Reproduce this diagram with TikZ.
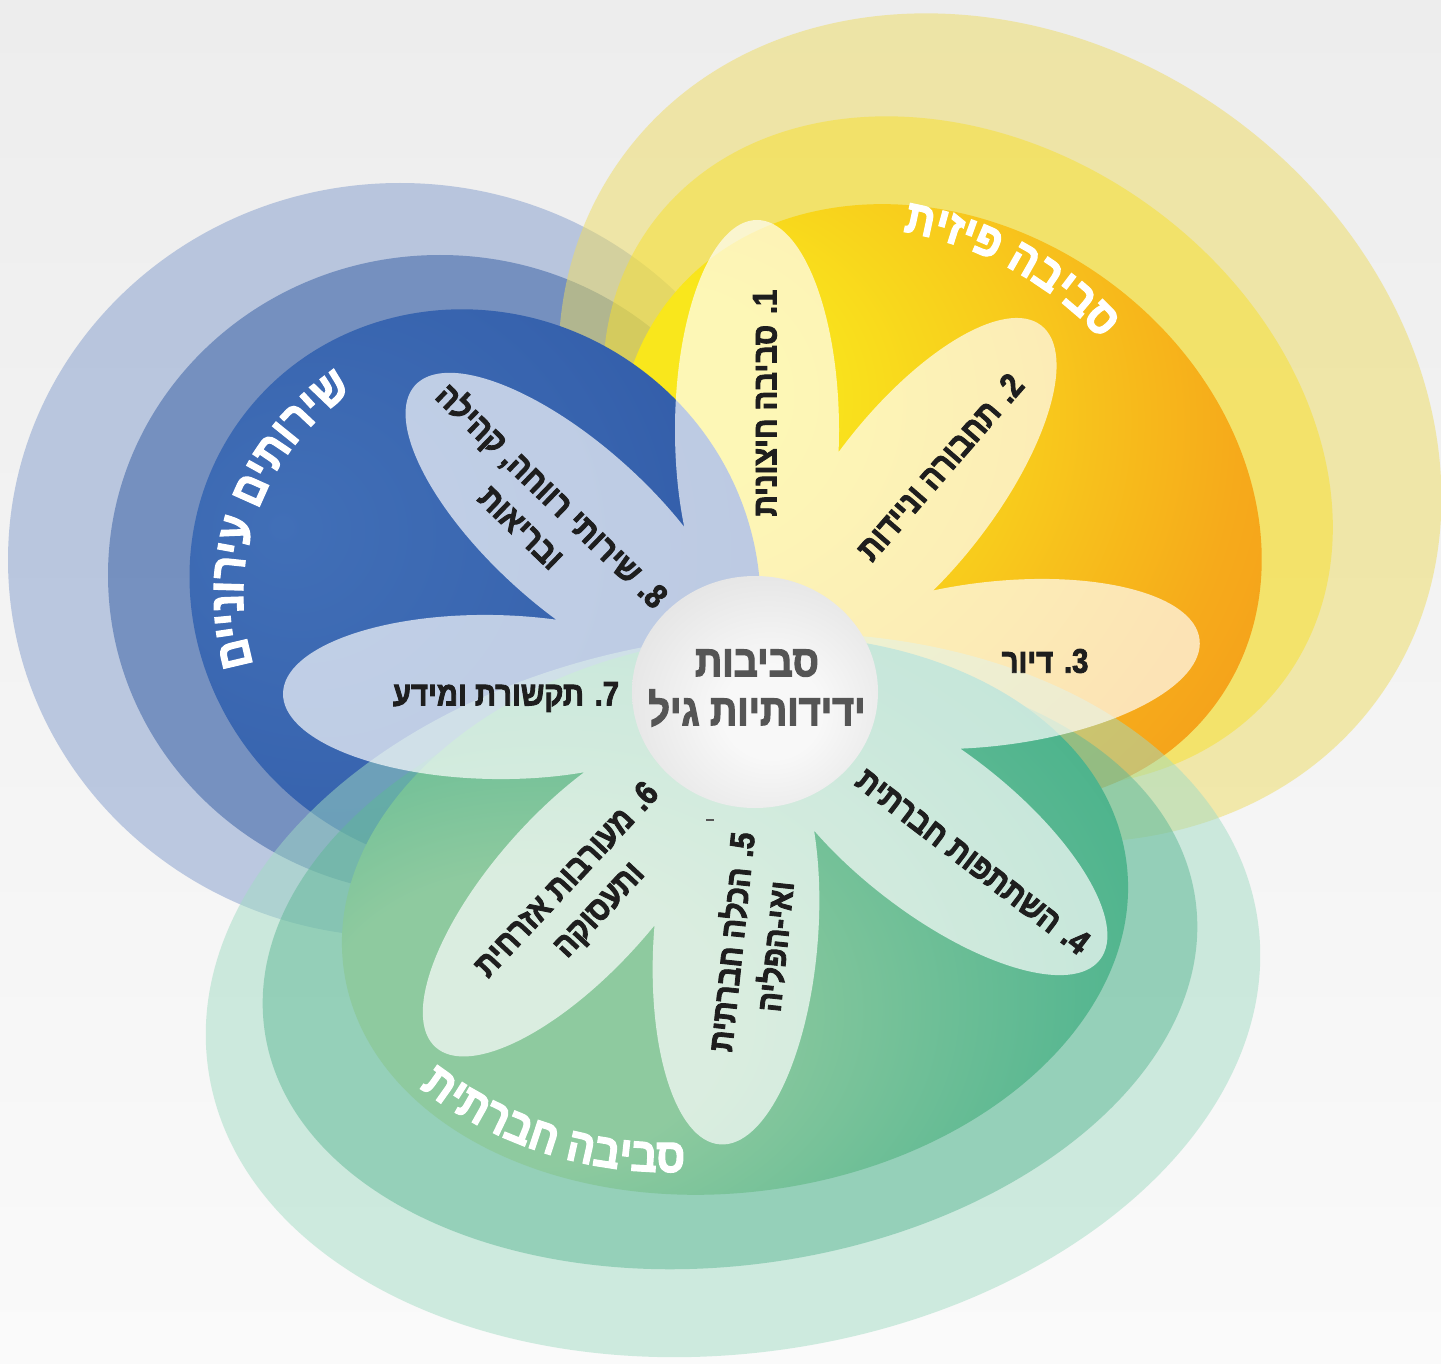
\documentclass[tikz,border=0pt]{standalone}
\usepackage{fontspec}
\usetikzlibrary{calc,decorations.text}
\newfontfamily\hfont[Script=Hebrew,FakeStretch=0.86,BoldFont={Liberation Sans Bold},BoldFeatures={FakeBold=2.5}]{Liberation Sans}
\TeXXeTstate=1
\definecolor{bgA}{HTML}{EDEDED}
\definecolor{bgB}{HTML}{FAFAFA}
\definecolor{yOut}{HTML}{EEDC60}
\definecolor{yMid}{HTML}{F7E02E}
\definecolor{bOut}{HTML}{829CCC}
\definecolor{bMid}{HTML}{335CA2}
\definecolor{gOut}{HTML}{A2DCC4}
\definecolor{gMid}{HTML}{5FB896}
\definecolor{yCore}{HTML}{F9E71C}
\definecolor{yWarm}{HTML}{F8CB1C}
\definecolor{yHalf}{HTML}{F6AA1B}
\definecolor{yEdge}{HTML}{F3921A}
\definecolor{bCore}{HTML}{416FB7}
\definecolor{bMidC}{HTML}{3763AE}
\definecolor{bEdge}{HTML}{284C9B}
\definecolor{gCore}{HTML}{8ECA9F}
\definecolor{gHalf}{HTML}{58B791}
\definecolor{gEdge}{HTML}{2FAB80}
\definecolor{sCore}{HTML}{F8F8F8}
\definecolor{sMid}{HTML}{E0E0E0}
\definecolor{sEdge}{HTML}{B0B0B0}
\definecolor{txtc}{HTML}{1E1E1E}
\definecolor{ctxt}{HTML}{555555}
\pgfdeclareradialshading{orangeshade}{\pgfpoint{-20bp}{9bp}}{color(0bp)=(yCore); color(8bp)=(yCore); color(21bp)=(yWarm); color(33bp)=(yHalf); color(47bp)=(yEdge); color(90bp)=(yEdge)}
\pgfdeclareradialshading{blueshade}{\pgfpoint{-15bp}{5bp}}{color(0bp)=(bCore); color(22bp)=(bMidC); color(52bp)=(bEdge); color(80bp)=(bEdge)}
\pgfdeclareradialshading{greenshade}{\pgfpoint{-15bp}{-10bp}}{color(0bp)=(gCore); color(12bp)=(gCore); color(31bp)=(gHalf); color(50bp)=(gEdge); color(90bp)=(gEdge)}
\pgfdeclareradialshading{sphereshade}{\pgfpoint{4bp}{-5bp}}{color(0bp)=(sCore); color(10bp)=(sCore); color(35bp)=(sMid); color(50bp)=(sEdge); color(70bp)=(sEdge)}
\newcommand\rotell[5]{%
 ($(#1,#2)+(#3:#4)$)
 .. controls ($(#1,#2)+(#3:#4)+(#3+90:0.5523*#5)$) and ($(#1,#2)+(#3+90:#5)+(#3:0.5523*#4)$) .. ($(#1,#2)+(#3+90:#5)$)
 .. controls ($(#1,#2)+(#3+90:#5)+(#3+180:0.5523*#4)$) and ($(#1,#2)+(#3+180:#4)+(#3+90:0.5523*#5)$) .. ($(#1,#2)+(#3+180:#4)$)
 .. controls ($(#1,#2)+(#3+180:#4)+(#3+270:0.5523*#5)$) and ($(#1,#2)+(#3+270:#5)+(#3+180:0.5523*#4)$) .. ($(#1,#2)+(#3+270:#5)$)
 .. controls ($(#1,#2)+(#3+270:#5)+(#3:0.5523*#4)$) and ($(#1,#2)+(#3:#4)+(#3+270:0.5523*#5)$) .. cycle
}
\newcommand\petalfont{\hfont\bfseries\fontsize{34}{44}\selectfont}
\newcommand\labfont{\hfont\bfseries\fontsize{48}{56}\selectfont}
\newcommand\centerfont{\hfont\bfseries\fontsize{44}{49}\selectfont}
\tikzset{
  petaltxt/.style={text=txtc, font=\petalfont, align=center, inner sep=0pt},
  ringlabel/.style={decorate, decoration={text along path, text align=center, text color=white, text={|\labfont|#1}}}
}
\begin{document}
\begin{tikzpicture}[x=1pt,y=-1pt]
\useasboundingbox (0,0) rectangle (1441,1364);
\shade[top color=bgA, bottom color=bgB] (0,0) rectangle (1441,1364);
% blue rings (under yellow)
\fill[bOut, fill opacity=0.5] (400,560) ellipse[x radius=392, y radius=377];
\fill[bMid, fill opacity=0.5] (440,575) ellipse[x radius=332, y radius=320];
% yellow group
\fill[yOut, fill opacity=0.5] \rotell{1000}{428}{34.8}{465}{388};
\fill[yMid, fill opacity=0.5] \rotell{968}{452}{34.8}{390}{306};
\shade[shading=orangeshade] \rotell{940}{505}{34.8}{340}{280};
% blue inner disc
\shade[shading=blueshade] \rotell{475}{590}{35}{290}{276};
% green group
\fill[gOut, fill opacity=0.5] \rotell{733}{995}{-8}{530}{358};
\fill[gMid, fill opacity=0.5] \rotell{730}{965}{-8}{470}{300};
\shade[shading=greenshade] \rotell{735}{915}{-8}{395}{277};
% petals
\fill[white, fill opacity=0.68]
  \rotell{757}{430}{-90}{210}{82}
  \rotell{912}{491}{-52}{210}{82}
  \rotell{991}{664}{-6.7}{210}{82}
  \rotell{934}{831}{37.8}{210}{82}
  \rotell{736}{935}{94.4}{210}{82}
  \rotell{576}{891}{132}{210}{82}
  \rotell{493}{697}{181}{210}{82}
  \rotell{571}{526}{-138}{210}{82};
% centre sphere
\shade[shading=sphereshade] (755,692) ellipse[x radius=123, y radius=116];
\node[font=\centerfont, text=ctxt, align=center, inner sep=0pt] (c) at (757,688) {\beginR סביבות\endR\\\beginR ידידותיות גיל\endR};
% petal labels
\node[petaltxt, rotate=90] (t1) at (765,403) {\beginR 1. סביבה חיצונית\endR};
\node[petaltxt, rotate=49] (t2) at (940,467) {\beginR 2. תחבורה וניידות\endR};
\node[petaltxt] (t3) at (1045,661) {\beginR 3. דיור\endR};
\node[petaltxt, rotate=-37.3] (t4) at (973,861) {\beginR 4. השתתפות חברתית\endR};
\node[petaltxt, rotate=84] (t5) at (752,944) {\beginR 5. הכלה חברתית\endR\\\beginR ואי-הפליה\endR};
\node[petaltxt, rotate=47] (t6) at (584,896) {\beginR 6. מעורבות אזרחית\endR\\\beginR ותעסוקה\endR};
\node[petaltxt] (t7) at (506,697) {\beginR 7. תקשורת ומידע\endR};
\node[petaltxt, rotate=-44] (t8) at (538,510) {\beginR 8. שירותי רווחה, קהילה\endR\\\beginR ובריאות\endR};
\draw[ctxt, line width=2] (706,820) -- (714,820);
% ring labels (characters are set one by one along the arc, so they are given in visual order)
\path[ringlabel={תיזיפ הביבס}] (845,575) ++(-105:348) arc[start angle=-105, end angle=-18, radius=348];
\path[ringlabel={םיינוריע םיתוריש}] (486,595) ++(-235:243) arc[start angle=-235, end angle=-85, radius=243];
\path[ringlabel={תיתרבח הביבס}] (668,763) ++(-205:409) arc[start angle=-205, end angle=-300, radius=409];
\end{tikzpicture}
\end{document}
